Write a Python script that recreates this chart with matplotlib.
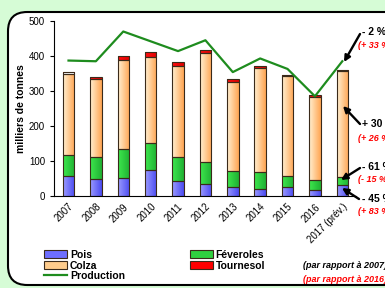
import matplotlib
matplotlib.use("Agg")
import matplotlib.pyplot as plt
from matplotlib.patches import FancyBboxPatch, Patch
from matplotlib.lines import Line2D
from matplotlib.colors import LinearSegmentedColormap
import numpy as np

plt.rcParams["font.family"] = ["Liberation Sans", "DejaVu Sans"]

years = ["2007", "2008", "2009", "2010", "2011", "2012", "2013",
         "2014", "2015", "2016", "2017 (prév.)"]
pois = [58, 49, 51, 75, 43, 35, 27, 20, 27, 18, 32]
feveroles = [59, 63, 84, 77, 69, 63, 45, 49, 31, 28, 23]
colza = [233, 221, 254, 245, 260, 311, 255, 298, 285, 236, 303]
tournesol = [5, 8, 11, 15, 11, 8, 7, 5, 3, 6, 2]
production = [387, 385, 470, 442, 414, 445, 354, 393, 363, 285, 385]

GREEN_BG = "#d6fcd6"
# (couleur gauche, couleur droite) de chaque dégradé
series = [
    (pois, ("#9a9aff", "#4b4bf0")),
    (feveroles, ("#3ee84e", "#1fb032")),
    (colza, ("#fff0d2", "#ffa552")),
    (tournesol, ("#ff1010", "#e00000")),
]

fig = plt.figure(figsize=(3.85, 2.88), dpi=100)
fig.patch.set_facecolor(GREEN_BG)

# cadre blanc arrondi
box = FancyBboxPatch((8 / 385, 3 / 288), 1.2, (285 - 12) / 288,
                     boxstyle="round,pad=0,rounding_size=0.05",
                     transform=fig.transFigure, facecolor="white",
                     edgecolor="black", linewidth=1.5, mutation_aspect=385 / 288,
                     zorder=-10)
fig.patches.append(box)

ax = fig.add_axes([54 / 385, 1 - 196 / 288, 302 / 385, 175 / 288])
ax.set_facecolor("none")

x = np.arange(len(years))
w = 0.42
edge = dict(edgecolor="#3a2a1a", linewidth=0.8)
grad = np.linspace(0, 1, 64).reshape(1, -1)
bottom = np.zeros(len(years))
for vals, (c0, c1) in series:
    bars = ax.bar(x, vals, w, bottom=bottom, color="none", zorder=3, **edge)
    cmap = LinearSegmentedColormap.from_list("g", [c0, c1])
    for rect in bars:
        rx, ry = rect.get_x(), rect.get_y()
        im = ax.imshow(grad, cmap=cmap, aspect="auto", zorder=2,
                       extent=[rx, rx + rect.get_width(), ry, ry + rect.get_height()])
        im.set_clip_path(rect)
    bottom += np.array(vals)

ax.plot(x, production, color="#1e8c1e", linewidth=1.6, zorder=4)

ax.set_xlim(-0.53, 10.5)
ax.set_ylim(0, 500)
ax.set_yticks(range(0, 501, 100))
ax.set_xticks(x)
ax.set_xticklabels(years, rotation=45, ha="right", rotation_mode="anchor", fontsize=7)
ax.tick_params(axis="y", labelsize=7, length=3, width=0.8)
ax.tick_params(axis="x", length=0, pad=4)
for s in ["top", "right"]:
    ax.spines[s].set_visible(False)
for s in ["left", "bottom"]:
    ax.spines[s].set_linewidth(0.8)
    ax.spines[s].set_zorder(5)
ax.set_ylabel("milliers de tonnes", fontsize=7.5, fontweight="bold", labelpad=2)

# flèches et pourcentages
notes = [
    ("- 2 %", "(+ 33 %", 32, 45, (360, 34), (344, 62)),
    ("+ 30 %", "(+ 26 %", 124, 138, (360, 124), (343, 106)),
    ("- 61 %", "(- 15 %", 167, 180, (360, 168), (341, 180)),
    ("- 45 %", "(+ 83 %", 199, 212, (359, 199), (342, 188)),
]
for txt, sub, ty, sy, start, end in notes:
    fig.text(362 / 385, 1 - ty / 288, txt, fontsize=7.5, fontweight="bold",
             va="center", ha="left")
    fig.text(358 / 385, 1 - sy / 288, sub, fontsize=6.5, fontweight="bold",
             style="italic", color="red", va="center", ha="left")
    ax.annotate("", xy=(end[0] / 385, 1 - end[1] / 288), xycoords="figure fraction",
                xytext=(start[0] / 385, 1 - start[1] / 288), textcoords="figure fraction",
                arrowprops=dict(arrowstyle="-|>", color="black", lw=1.7,
                                mutation_scale=9, shrinkA=0, shrinkB=0))

fig.text(303 / 385, 1 - 266 / 288, "(par rapport à 2007)", fontsize=6.5,
         fontweight="bold", style="italic", va="center")
fig.text(303 / 385, 1 - 280 / 288, "(par rapport à 2016)", fontsize=6.5,
         fontweight="bold", style="italic", color="red", va="center")

handles = [Patch(facecolor="#6e6eff", **edge), Patch(facecolor="#2fd040", **edge),
           Patch(facecolor="#ffcc8c", **edge), Patch(facecolor="#ff0000", **edge),
           Line2D([], [], color="#1e8c1e", linewidth=1.6)]
labels = ["Pois", "Féveroles", "Colza", "Tournesol", "Production"]
order = [0, 2, 4, 1, 3]
leg = fig.legend([handles[i] for i in order], [labels[i] for i in order],
                 loc="upper left", bbox_to_anchor=(44 / 385, 1 - 250 / 288),
                 ncol=2, frameon=False, prop={"weight": "bold", "size": 7.5},
                 handlelength=2.2, handleheight=0.8, handletextpad=0.3,
                 labelspacing=0.05, columnspacing=6.2, borderpad=0, borderaxespad=0)

fig.savefig("out.png", dpi=100, facecolor=fig.get_facecolor())
